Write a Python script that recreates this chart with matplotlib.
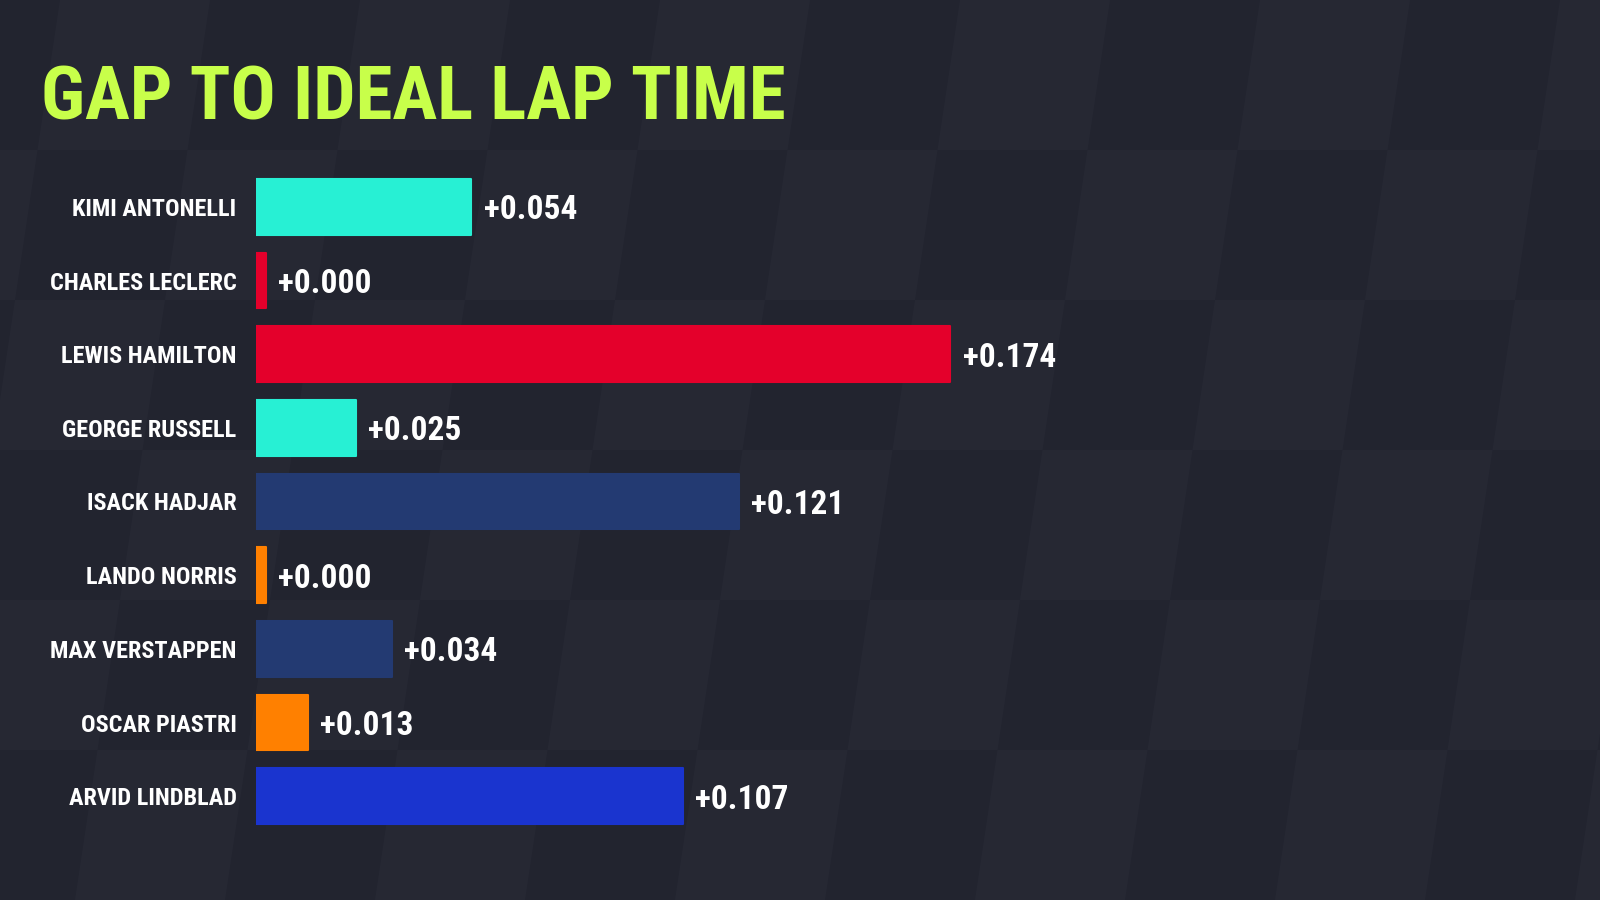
import matplotlib
matplotlib.use("Agg")
import matplotlib.pyplot as plt
from matplotlib import font_manager
from matplotlib.patches import Polygon
import numpy as np

drivers = ["KIMI ANTONELLI", "CHARLES LECLERC", "LEWIS HAMILTON", "GEORGE RUSSELL",
           "ISACK HADJAR", "LANDO NORRIS", "MAX VERSTAPPEN", "OSCAR PIASTRI", "ARVID LINDBLAD"]
gaps = [0.054, 0.000, 0.174, 0.025, 0.121, 0.000, 0.034, 0.013, 0.107]
value_labels = ["+0.054", "+0.000", "+0.174", "+0.025", "+0.121", "+0.000", "+0.034", "+0.013", "+0.107"]
bar_colors = ["#27F0D4", "#E4002B", "#E4002B", "#27F0D4", "#233A72",
              "#FF8000", "#233A72", "#FF8000", "#1A34CF"]
title = "GAP TO IDEAL LAP TIME"

available = {f.name for f in font_manager.fontManager.ttflist}
FONT = next((f for f in ["Roboto Condensed", "Liberation Sans Narrow", "DejaVu Sans"] if f in available), "DejaVu Sans")

BG_DARK = "#22242F"
BG_LIGHT = "#292B37"

fig = plt.figure(figsize=(16, 9), dpi=100)
fig.patch.set_facecolor(BG_DARK)

# subtle skewed checkerboard background
bg = fig.add_axes([0, 0, 1, 1])
bg.set_xlim(0, 1600)
bg.set_ylim(900, 0)
bg.axis("off")
cell = 150
skew = -0.15
for r in range(-1, 8):
    for c in range(-2, 13):
        if (r + c) % 2 == 0:
            y0, y1 = r * cell, (r + 1) * cell
            pts = [(x + skew * yy + 60, yy) for (x, yy) in [(c * cell, y0), ((c + 1) * cell, y0),
                                                           ((c + 1) * cell, y1), (c * cell, y1)]]
            bg.add_patch(Polygon(pts, closed=True, facecolor=BG_LIGHT, edgecolor="none", alpha=0.6))

ax = fig.add_axes([256 / 1600, 1 - 833 / 900, 0.3 * 3990 / 1600, 663 / 900])
ax.set_facecolor("none")
y = np.arange(len(drivers))
min_w = 0.0025
widths = [max(g, min_w) for g in gaps]
ax.barh(y, widths, height=0.76, color=bar_colors, edgecolor=bar_colors,
        linewidth=1.5, joinstyle="round")
ax.set_xlim(0, 0.3)
ax.set_ylim(len(drivers) - 0.5, -0.5)
for s in ax.spines.values():
    s.set_visible(False)
ax.set_xticks([])
ax.set_yticks(y)
ax.set_yticklabels(drivers, fontsize=17.5, color="white", fontweight="bold", family=FONT)
ax.tick_params(axis="y", length=0, pad=14)

for yi, w, lab in zip(y, widths, value_labels):
    ax.annotate(lab, xy=(w, yi), xytext=(9, 0), textcoords="offset points",
                va="center_baseline", ha="left", fontsize=24, color="white",
                fontweight="bold", family=FONT)

fig.text(41 / 1600, 1 - 119 / 900, title, fontsize=54, color="#C8FF4A",
         fontweight="bold", family=FONT, va="baseline", ha="left")

fig.savefig("out.png", dpi=100, facecolor=fig.get_facecolor())
